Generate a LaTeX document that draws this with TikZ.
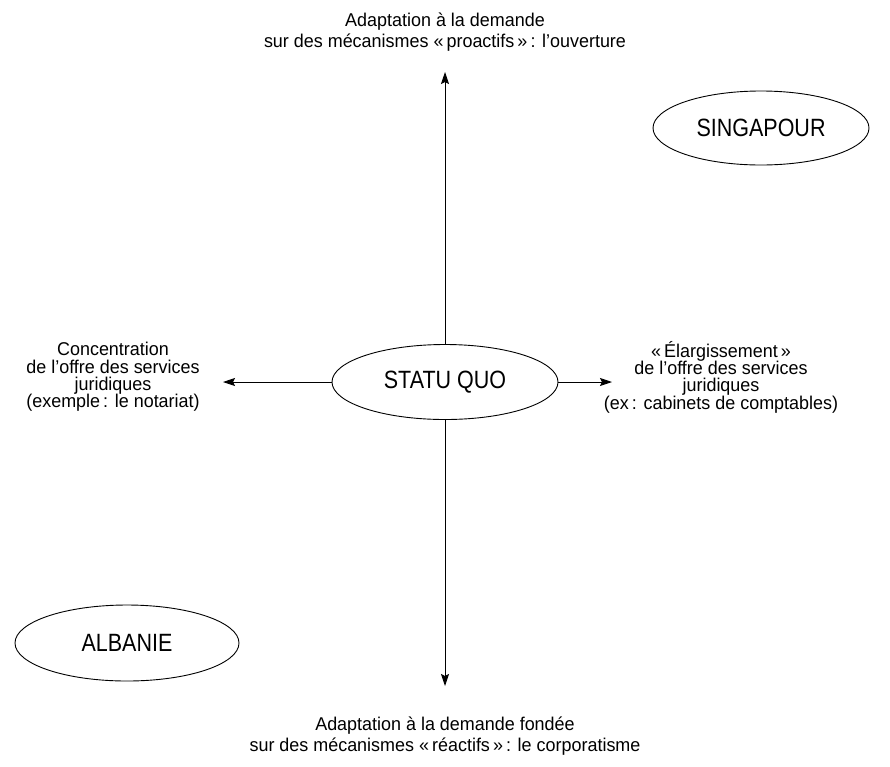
\documentclass[tikz,border=0pt]{standalone}
\usepackage{fontspec}
\setmainfont{Liberation Sans}[FakeStretch=0.97]
\newfontfamily\ovalfont{Liberation Sans}[FakeStretch=0.86]
\usetikzlibrary{shapes.geometric,arrows.meta}
\begin{document}
\begin{tikzpicture}[x=1pt,y=-1pt,
  lbl/.style={align=center,font=\fontsize{18.5}{21.5}\selectfont,inner sep=0pt},
  slbl/.style={align=center,font=\fontsize{18.5}{17.3}\selectfont,inner sep=0pt},
  oval/.style={ellipse,draw,line width=0.9pt,font=\ovalfont\fontsize{25}{30}\selectfont,inner sep=0pt},
  arr/.style={line width=0.9pt,-{Stealth[length=12pt,width=8pt,inset=2pt]}}]
\useasboundingbox (0,0) rectangle (890,766);
\node[oval,minimum width=226,minimum height=75] (sq) at (445,382) {STATU QUO};
\node[oval,minimum width=216,minimum height=74] (sg) at (761,128) {SINGAPOUR};
\node[oval,minimum width=224,minimum height=76] (al) at (127,643) {ALBANIE};
\coordinate (top) at (445,72);
\coordinate (bot) at (445,686);
\coordinate (lft) at (223,382);
\coordinate (rgt) at (612,382);
\draw[arr] (sq.north) -- (top);
\draw[arr] (sq.south) -- (bot);
\draw[arr] (sq.west) -- (lft);
\draw[arr] (sq.east) -- (rgt);
\node[lbl] (t) at (445,32) {Adaptation à la demande\\sur des mécanismes «\,proactifs\,»\,: l’ouverture};
\node[lbl] (b) at (445,736) {Adaptation à la demande fondée\\sur des mécanismes «\,réactifs\,»\,: le corporatisme};
\node[slbl] (l) at (113,377) {Concentration\\de l’offre des services\\juridiques\\(exemple\,: le notariat)};
\node[slbl] (r) at (721,377) {«\,Élargissement\,»\\de l’offre des services\\juridiques\\(ex\,: cabinets de comptables)};
\end{tikzpicture}
\end{document}
